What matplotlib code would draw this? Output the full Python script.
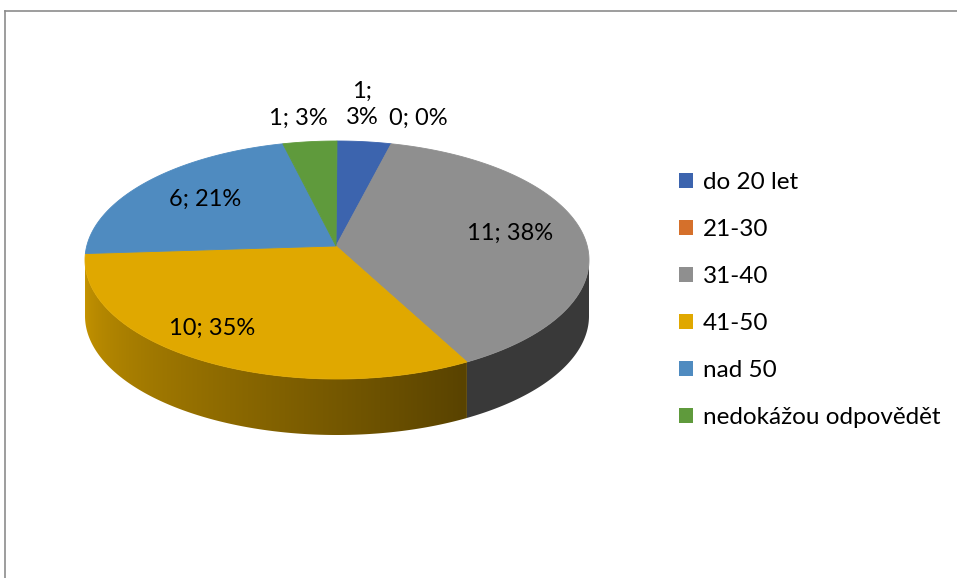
import numpy as np
import matplotlib
matplotlib.use("Agg")
import matplotlib.pyplot as plt
from matplotlib.patches import Polygon, Patch
from matplotlib.lines import Line2D

plt.rcParams['font.family'] = ['Lato', 'DejaVu Sans']

categories = ["do 20 let", "21-30", "31-40", "41-50", "nad 50", "nedokážou odpovědět"]
values = [1, 0, 11, 10, 6, 1]
colors = ["#3c64ae", "#d5702b", "#8f8f8f", "#e0a800", "#4f8bc0", "#5f9a3c"]
labels = ["1;\n3%", "0; 0%", "11; 38%", "10; 35%", "6; 21%", "1; 3%"]
label_pos = [(362, 104), (418, 118), (510, 233), (212, 328), (205, 199), (298, 118)]

W, H = 957, 578
fig = plt.figure(figsize=(W / 100, H / 100), dpi=100)
ax = fig.add_axes([0, 0, 1, 1])
ax.set_xlim(0, W)
ax.set_ylim(H, 0)
ax.axis('off')

# frame
ax.add_line(Line2D([4.5, W], [10.5, 10.5], color="#8c8c8c", lw=1.2))
ax.add_line(Line2D([4.5, 4.5], [10.5, H], color="#8c8c8c", lw=1.2))

cx, cy, rx, ry, depth = 337, 260, 252, 119, 56
apex = (336, 246)

total = sum(values)
fracs = np.array(values) / total
starts = np.concatenate([[0], np.cumsum(fracs)[:-1]]) * 360
ends = np.cumsum(fracs) * 360


def rim(theta_deg):
    t = np.radians(theta_deg)
    return cx + rx * np.sin(t), cy - ry * np.cos(t)


def shade(theta):
    f = 0.40 + (theta - 150) / 120 * 0.49
    return np.clip(f, 0.40, 0.92)

# side faces with smooth horizontal gradient
xs = np.linspace(cx - rx, cx + rx, 600)
theta_x = 180 - np.degrees(np.arcsin(np.clip((xs - cx) / rx, -1, 1)))
fac = shade(theta_x)
for s, e, c in zip(starts, ends, colors):
    a0, a1 = max(s, 90), min(e, 270)
    if a1 <= a0:
        continue
    ts = np.linspace(a0, a1, max(int((a1 - a0) / 0.5), 2) + 1)
    top = [rim(t) for t in ts]
    bot = [(x, y + depth) for x, y in top[::-1]]
    poly = Polygon(top + bot, closed=True, facecolor='none', edgecolor='none')
    ax.add_patch(poly)
    base = np.array(matplotlib.colors.to_rgb(c))
    img = (fac[None, :, None] * base[None, None, :]).repeat(2, axis=0)
    im = ax.imshow(img, extent=(cx - rx, cx + rx, cy + ry + depth + 2, cy - ry - 2),
                   aspect='auto', interpolation='bilinear', zorder=1)
    im.set_clip_path(poly)
    ax.set_xlim(0, W)
    ax.set_ylim(H, 0)

# top faces
for s, e, c in zip(starts, ends, colors):
    if e - s <= 0:
        continue
    ts = np.linspace(s, e, max(int((e - s) / 0.5), 2) + 1)
    pts = [apex] + [rim(t) for t in ts]
    ax.add_patch(Polygon(pts, closed=True, facecolor=c, edgecolor=c, lw=0.6, zorder=2))

for lab, (x, y) in zip(labels, label_pos):
    ax.text(x, y, lab, ha='center', va='center', fontsize=17, color='black',
            linespacing=1.3, zorder=3)

handles = [Patch(facecolor=c, edgecolor='none') for c in colors]
leg = fig.legend(handles, categories, loc='upper left',
                 bbox_to_anchor=(669 / W, 1 - 162 / H), frameon=False,
                 fontsize=17.5, handlelength=0.58, handleheight=0.58,
                 handletextpad=0.42, labelspacing=1.07, borderaxespad=0)

fig.savefig("out.png", dpi=100)
